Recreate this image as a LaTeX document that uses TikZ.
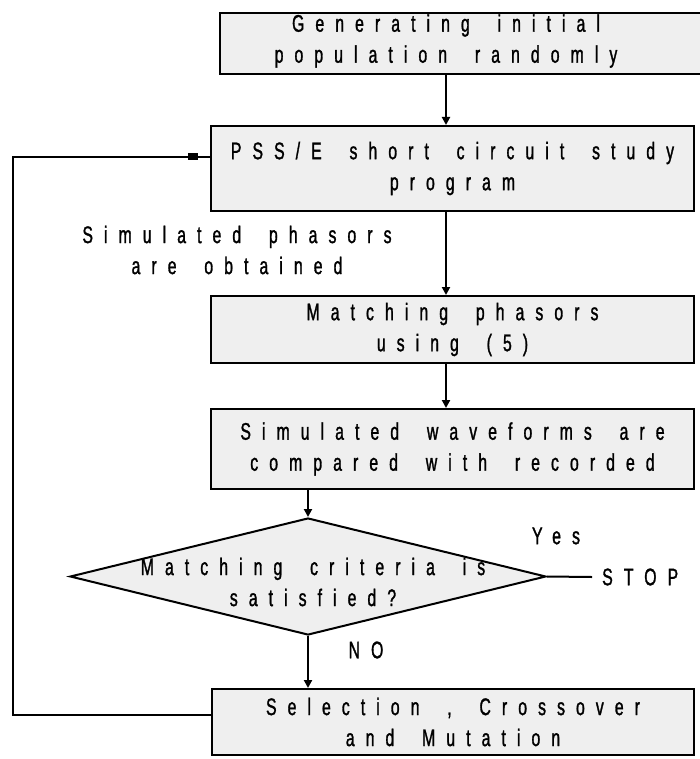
\documentclass[tikz,border=0pt]{standalone}
\usepackage{fontspec}
\setmainfont{Liberation Sans}[FakeStretch=0.66,LetterSpace=46,WordSpace=1.8,FakeBold=1.2]
\usetikzlibrary{arrows.meta,shapes.geometric}
\definecolor{boxgray}{RGB}{239,239,239}

\begin{document}
\begin{tikzpicture}[x=1pt,y=-1pt,
  txt/.style={align=center, inner sep=0pt, font=\fontsize{24}{31}\selectfont},
  box/.style={txt, draw, line width=2pt, fill=boxgray, anchor=north west},
  arr/.style={line width=2pt, -{Triangle[width=8pt,length=8pt]}},
  ln/.style={line width=2pt},
  sqmark/.style={fill=black, inner sep=0pt, minimum width=10pt, minimum height=7pt}]

  \useasboundingbox (0,0) rectangle (700,759);
  \clip (0,0) rectangle (700,759);

  % process boxes
  \node[box, minimum width=520, minimum height=61] (b1) at (219,12) {};
  \node[txt] (t1) at (446,41) {Generating initial\\population randomly};
  \node[box, minimum width=483, minimum height=85] (b2) at (210,125)
    {PSS/E short circuit study\\program};
  \node[box, minimum width=483, minimum height=67] (b3) at (210,295)
    {Matching phasors\\using (5)};
  \node[box, minimum width=483, minimum height=80] (b4) at (210,408)
    {Simulated waveforms are\\compared with recorded};
  \node[box, minimum width=482, minimum height=66] (b6) at (211,688)
    {Selection , Crossover\\and Mutation};

  % decision
  \node[diamond, draw, line width=2pt, fill=boxgray, inner sep=0pt,
        minimum width=476, minimum height=117] (d) at (308,576.5) {};
  \node[txt] (dt) at (313,582) {Matching criteria is\\satisfied?};

  % side labels
  \node[txt] (lsim) at (237,250) {Simulated phasors\\are obtained};
  \node[txt] (lyes) at (556,536) {Yes};
  \node[txt] (lno) at (366,650) {NO};
  \node[txt, anchor=west] (stop) at (602,577) {STOP};

  % main flow
  \draw[arr] (b1.south -| t1) -- (b2.north -| t1);
  \draw[arr] (b2.south -| t1) -- (b3.north -| t1);
  \draw[arr] (b3.south -| t1) -- (b4.north -| t1);
  \draw[arr] (d.north |- b4.south) -- (d.north);
  \draw[arr] (d.south) -- (d.south |- b6.north);
  \draw[ln] (d.east) -- ([xshift=-10pt]stop.west);

  % feedback loop back to the short circuit study
  \draw[ln] ([yshift=7pt]b6.west) -- ++(-198,0)
    |- node[sqmark, pos=0.957] {} ([yshift=11.5pt]b2.west);
\end{tikzpicture}
\end{document}
